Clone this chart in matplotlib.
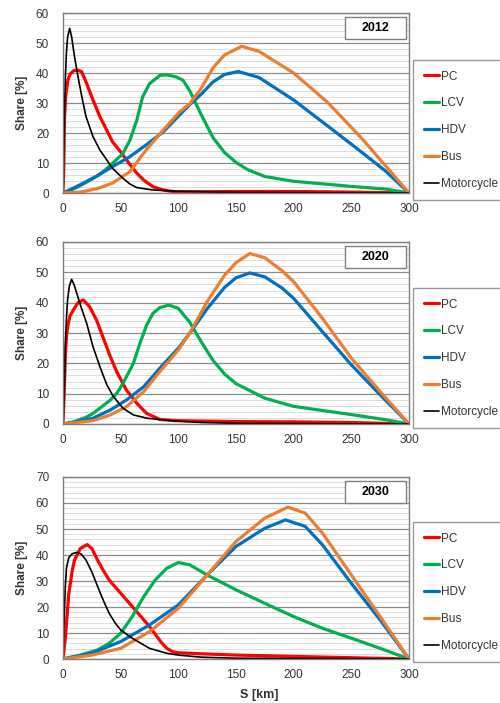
import matplotlib
matplotlib.use("Agg")
import matplotlib.pyplot as plt
from matplotlib.patches import Rectangle
from matplotlib.ticker import MultipleLocator

plt.rcParams['font.family'] = ['Liberation Sans', 'DejaVu Sans']

series_names = ["PC", "LCV", "HDV", "Bus", "Motorcycle"]
series_colors = ["#FF0000", "#00B050", "#0070C0", "#ED7D31", "#000000"]
series_widths = [2.3, 2.3, 2.3, 2.3, 1.2]
years = ["2012", "2020", "2030"]
y_max = [60, 60, 70]
x_ticks = [0, 50, 100, 150, 200, 250, 300]

# ---- 2012 ----
pc12_x = [0, 0.5, 1.3, 2.2, 4.3, 6, 9, 12, 16, 20, 26, 32, 38, 43, 50, 58, 64, 70, 78, 85, 93, 100, 150, 200, 250, 300]
pc12_y = [0, 5, 25, 32, 37.7, 39.5, 40.7, 41, 40.5, 37, 31, 25.4, 20.9, 17, 13.7, 9.5, 6.6, 4.3, 2.1, 1.2, 0.6, 0.4, 0.5, 0.5, 0.3, 0]
lcv12_x = [0, 10, 20, 29, 36, 43, 52, 58, 64, 69, 75, 84, 90, 98, 104, 110, 120, 130, 140, 150, 160, 175, 200, 250, 280, 300]
lcv12_y = [0, 1.5, 3.5, 5.5, 7.5, 9.9, 13.2, 17.6, 24.3, 32, 36.4, 39.2, 39.4, 38.7, 37.6, 34, 26, 18.5, 13.5, 10.2, 7.8, 5.5, 3.9, 2.2, 1.3, 0]
hdv12_x = [0, 10, 20, 30, 43, 58, 72, 87, 101, 110, 120, 130, 140, 152, 170, 200, 230, 260, 280, 300]
hdv12_y = [0, 1.8, 3.8, 5.8, 8.8, 12.1, 16, 20.4, 26, 29.5, 33, 37, 39.5, 40.5, 38.5, 31, 22.2, 13.3, 7.2, 0]
bus12_x = [0, 15, 30, 43, 58, 72, 87, 101, 110, 120, 130, 140, 155, 170, 200, 230, 260, 280, 300]
bus12_y = [0, 0.3, 1.5, 3.3, 7.1, 14.3, 21, 27, 29.8, 35, 41.7, 46, 48.9, 47.2, 40, 30, 17.8, 8.9, 0]
moto12_x = [0, 1, 2, 3, 4, 5.8, 7.5, 10, 13, 16, 20, 26, 32, 38, 43, 52, 58, 64, 78, 98, 150, 300]
moto12_y = [0, 20, 38, 47, 52, 54.9, 52, 45.4, 38.8, 32.7, 25.4, 18.8, 14.3, 11, 8.2, 4.9, 3, 1.8, 1.0, 0.6, 0.2, 0]

# ---- 2020 ----
pc20_x = [0, 1, 2, 3, 4.6, 6, 9, 13, 17.6, 23, 29, 35, 41, 46.5, 55, 64, 72.5, 84, 98, 150, 200, 250, 300]
pc20_y = [0, 10, 22, 29, 33.2, 35.5, 37.6, 40, 40.9, 38.7, 34.3, 28.3, 22.2, 17.3, 11.2, 6.8, 3.5, 1.5, 1.1, 0.8, 0.7, 0.5, 0]
lcv20_x = [0, 10, 20, 26, 33, 41, 47, 52, 56, 61, 66.7, 72.5, 78, 84, 92, 100, 110, 120, 130, 140, 150, 175, 200, 250, 280, 300]
lcv20_y = [0, 0.8, 2.2, 3.5, 5.5, 7.9, 10.3, 13.4, 16.3, 20, 26.6, 32.6, 36.5, 38.4, 39.2, 38.1, 33.5, 27, 21, 16.5, 13.3, 8.5, 5.8, 3.1, 1.4, 0]
hdv20_x = [0, 10, 26, 41, 55, 70, 84, 100, 110, 125, 140, 150, 162, 175, 190, 200, 225, 250, 275, 300]
hdv20_y = [0, 0.6, 1.9, 4.6, 7.9, 12.3, 18.4, 25, 30, 38, 45, 48.2, 49.8, 48.5, 44.8, 41.4, 30.4, 19.5, 9.6, 0]
bus20_x = [0, 26, 41, 55, 70, 84, 100, 110, 125, 140, 150, 162, 175, 190, 200, 225, 250, 275, 300]
bus20_y = [0, 1.1, 3, 5.7, 10.7, 17.3, 24.4, 30, 40.3, 49, 53.2, 56.2, 54.8, 50.5, 46.9, 34.8, 21.7, 10.7, 0]
moto20_x = [0, 1, 2, 3, 4, 5.5, 7.5, 9.5, 12, 16, 20.5, 26, 32, 38, 43.6, 52, 61, 73, 93, 120, 150, 300]
moto20_y = [0, 10, 25, 35, 41, 45.5, 47.7, 46, 43, 38.2, 33.2, 25.5, 18.9, 12.9, 9.1, 5.2, 3, 1.9, 1.1, 0.5, 0.2, 0]

# ---- 2030 ----
pc30_x = [0, 2, 5, 8, 10, 15, 21, 25, 30, 35, 40, 50, 60, 75, 85, 90, 95, 100, 120, 150, 200, 250, 300]
pc30_y = [0, 8, 25, 34, 38, 42.5, 44, 42.5, 38, 34, 30.4, 25.3, 20.2, 12.5, 6.5, 4.1, 2.8, 2.4, 2, 1.5, 1, 0.5, 0]
lcv30_x = [0, 15, 30, 40, 50, 60, 70, 80, 90, 100, 110, 125, 150, 175, 200, 225, 250, 275, 300]
lcv30_y = [0, 1.5, 3.5, 6, 9.9, 16.3, 24, 30.4, 34.9, 37.1, 36.2, 32.3, 26.6, 21.4, 16.3, 11.8, 8, 4.1, 0]
hdv30_x = [0, 25, 50, 75, 100, 125, 150, 175, 193, 210, 225, 250, 275, 300]
hdv30_y = [0, 2.2, 6.7, 13.1, 20.8, 32.3, 43.3, 50.3, 53.5, 51, 43.9, 29.1, 15, 0]
bus30_x = [0, 25, 50, 75, 100, 125, 150, 175, 195, 210, 225, 250, 275, 300]
bus30_y = [0, 1.5, 4.1, 10.5, 19.5, 32.3, 45.2, 54.2, 58.4, 56.1, 48.4, 32.3, 16.3, 0]
moto30_x = [0, 1, 2, 3, 5, 8, 12, 16, 20, 25, 30, 35, 40, 45, 50, 60, 75, 90, 100, 120, 150, 300]
moto30_y = [0, 15, 28, 35, 39, 40.5, 41, 40.3, 38, 33.5, 27.9, 22.5, 17.6, 14, 11.2, 8, 4.1, 2.2, 1.5, 0.7, 0.3, 0]

panels = [
    [(pc12_x, pc12_y), (lcv12_x, lcv12_y), (hdv12_x, hdv12_y), (bus12_x, bus12_y), (moto12_x, moto12_y)],
    [(pc20_x, pc20_y), (lcv20_x, lcv20_y), (hdv20_x, hdv20_y), (bus20_x, bus20_y), (moto20_x, moto20_y)],
    [(pc30_x, pc30_y), (lcv30_x, lcv30_y), (hdv30_x, hdv30_y), (bus30_x, bus30_y), (moto30_x, moto30_y)],
]

W, H = 500, 703
fig = plt.figure(figsize=(W / 100, H / 100), dpi=100)

# axes boxes in pixels: (left, top, right, bottom)
boxes = [(63, 13, 409, 193), (63, 242, 409, 424), (63, 477, 409, 659)]
legend_tops = [60, 288, 522]

grid_major = "#8C8C8C"
grid_minor = "#DCDCDC"
text_col = "#333333"

for i, (box, data) in enumerate(zip(boxes, panels)):
    l, t, r, b = box
    ax = fig.add_axes([l / W, 1 - b / H, (r - l) / W, (b - t) / H])
    ax.set_xlim(0, 300)
    ax.set_ylim(0, y_max[i])
    ax.set_xticks(x_ticks)
    ax.yaxis.set_major_locator(MultipleLocator(10))
    ax.yaxis.set_minor_locator(MultipleLocator(2))
    ax.grid(True, which="major", axis="y", color=grid_major, lw=0.9)
    ax.grid(True, which="minor", axis="y", color=grid_minor, lw=0.7)
    ax.set_axisbelow(True)
    ax.tick_params(which="both", length=0, labelsize=8.5, labelcolor=text_col)
    ax.tick_params(axis="y", pad=10)
    ax.tick_params(axis="x", pad=7)
    for sp in ax.spines.values():
        sp.set_color("#7F7F7F")
        sp.set_linewidth(1.0)
    lines = []
    for (xs, ys), name, col, lw in zip(data, series_names, series_colors, series_widths):
        ln, = ax.plot(xs, ys, color=col, lw=lw, label=name, solid_joinstyle="round",
                      solid_capstyle="round", clip_on=True)
        lines.append(ln)
    ax.set_ylabel("Share [%]", fontsize=8.5, fontweight="bold", color=text_col, labelpad=6)
    # year box
    ax.add_patch(Rectangle((0.815, 0.855), 0.176, 0.122, transform=ax.transAxes,
                           facecolor="white", edgecolor="#7F7F7F", lw=1.0, zorder=5))
    ax.text(0.903, 0.916, years[i], transform=ax.transAxes, ha="center", va="center",
            fontsize=9, fontweight="bold", color="black", zorder=6)
    # legend
    leg = fig.legend(handles=lines, labels=series_names, loc="upper left",
                     bbox_to_anchor=(413 / W, 1 - legend_tops[i] / H),
                     frameon=True, fancybox=False, fontsize=8.5, handlelength=1.3,
                     handletextpad=0.15, labelspacing=1.25, borderpad=0.9,
                     borderaxespad=0.0)
    leg.get_frame().set_edgecolor("#7F7F7F")
    leg.get_frame().set_linewidth(1.0)
    for txt in leg.get_texts():
        txt.set_color(text_col)

fig.text(259 / W, 1 - 695 / H, "S [km]", ha="center", va="center", fontsize=9,
         fontweight="bold", color=text_col)

fig.savefig("out.png", dpi=100)
